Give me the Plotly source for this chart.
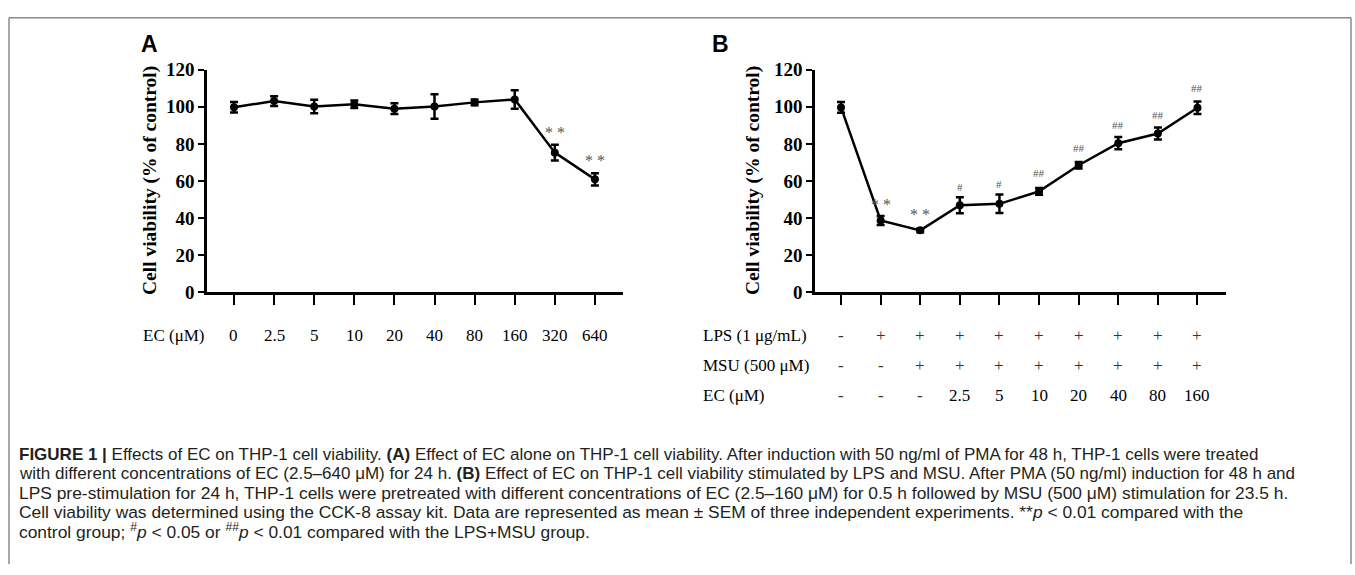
import plotly.graph_objects as go

W, H = 1355, 575

# ---------------- data ----------------
ec_a = ["0", "2.5", "5", "10", "20", "40", "80", "160", "320", "640"]
via_a = [99.8, 103.1, 100.2, 101.4, 99.0, 100.2, 102.4, 104.0, 75.3, 60.9]
sem_a = [2.8, 2.6, 3.6, 2.0, 2.9, 6.6, 1.5, 5.0, 4.2, 3.3]
sig_a = ["", "", "", "", "", "", "", "", "* *", "* *"]
sig_a_y = [None, None, None, None, None, None, None, None, 86.4, 70.9]

lps_b = ["-", "+", "+", "+", "+", "+", "+", "+", "+", "+"]
msu_b = ["-", "-", "+", "+", "+", "+", "+", "+", "+", "+"]
ec_b = ["-", "-", "-", "2.5", "5", "10", "20", "40", "80", "160"]
via_b = [99.7, 38.7, 33.4, 46.9, 47.7, 54.4, 68.5, 80.4, 85.6, 99.5]
sem_b = [2.9, 2.4, 1.0, 4.3, 5.0, 1.8, 1.7, 3.3, 3.2, 3.4]
sig_b = ["", "* *", "* *", "#", "#", "##", "##", "##", "##", "##"]
sig_b_y = [None, 47.5, 41.8, 57.0, 58.3, 64.3, 77.9, 90.3, 95.8, 109.9]

row_labels_b = ["LPS (1 μg/mL)", "MSU (500 μM)", "EC (μM)"]
row_label_a = "EC (μM)"
y_ticks = [0, 20, 40, 60, 80, 100, 120]
y_title = "Cell viability (% of control)"

caption_lines = [
    "<b>FIGURE 1 |</b> Effects of EC on THP-1 cell viability. <b>(A)</b> Effect of EC alone on THP-1 cell viability. After induction with 50 ng/ml of PMA for 48 h, THP-1 cells were treated",
    "with different concentrations of EC (2.5–640 μM) for 24 h. <b>(B)</b> Effect of EC on THP-1 cell viability stimulated by LPS and MSU. After PMA (50 ng/ml) induction for 48 h and",
    "LPS pre-stimulation for 24 h, THP-1 cells were pretreated with different concentrations of EC (2.5–160 μM) for 0.5 h followed by MSU (500 μM) stimulation for 23.5 h.",
    "Cell viability was determined using the CCK-8 assay kit. Data are represented as mean ± SEM of three independent experiments. **<i>p</i> < 0.01 compared with the",
    "control group; <sup>#</sup><i>p</i> < 0.05 or <sup>##</sup><i>p</i> < 0.01 compared with the LPS+MSU group.",
]

# ---------------- layout helpers ----------------
def px_x(p):
    return p / W

def px_y(p):
    return 1 - p / H

SERIF = "Liberation Serif, Times New Roman, serif"
SANS = "Liberation Sans, Arial, Helvetica, sans-serif"

fig = go.Figure()

xa = list(range(len(ec_a)))
xb = list(range(len(via_b)))

for xs, ys, es, xr, yr in ((xa, via_a, sem_a, "x", "y"), (xb, via_b, sem_b, "x2", "y2")):
    fig.add_trace(go.Scatter(
        x=xs, y=ys, mode="lines+markers",
        line=dict(color="black", width=2.5),
        marker=dict(color="black", size=8),
        error_y=dict(type="data", array=es, visible=True, color="black", thickness=2.5, width=4),
        xaxis=xr, yaxis=yr, showlegend=False, hoverinfo="skip",
    ))

ydom = [px_y(293), px_y(62)]
yax = dict(
    range=[0, 120], tickvals=y_ticks, showgrid=False, zeroline=False,
    showline=True, linecolor="black", linewidth=2.5,
    ticks="outside", ticklen=6, tickwidth=2.2, tickcolor="black",
    tickfont=dict(family=SERIF, size=19, color="black", weight="bold"),
    domain=ydom, fixedrange=True,
)
xax_common = dict(
    showgrid=False, zeroline=False, showline=True, linecolor="black", linewidth=2.5,
    ticks="outside", ticklen=10, tickwidth=2.2, tickcolor="black",
    showticklabels=False, fixedrange=True,
)

fig.update_layout(
    width=W, height=H, margin=dict(l=0, r=0, t=0, b=0),
    paper_bgcolor="white", plot_bgcolor="white",
    xaxis=dict(xax_common, domain=[px_x(207), px_x(623)], range=[-0.673, 9.70],
               tickvals=xa, anchor="y"),
    yaxis=dict(yax, anchor="x"),
    xaxis2=dict(xax_common, domain=[px_x(815), px_x(1226)], range=[-0.657, 9.72],
                tickvals=xb, anchor="y2"),
    yaxis2=dict(yax, anchor="x2"),
)

ann = []
def add(**kw):
    kw.setdefault("showarrow", False)
    kw.setdefault("xanchor", "center")
    kw.setdefault("yanchor", "middle")
    ann.append(kw)

# panel letters
add(text="<b>A</b>", x=px_x(149), y=px_y(35), xref="paper", yref="paper",
    font=dict(family=SANS, size=23, color="black"))
add(text="<b>B</b>", x=px_x(720), y=px_y(35), xref="paper", yref="paper",
    font=dict(family=SANS, size=23, color="black"))
# y titles
for cx in (150, 753):
    add(text="<b>" + y_title + "</b>", x=px_x(cx), y=(ydom[0] + ydom[1]) / 2,
        xref="paper", yref="paper", textangle=-90,
        font=dict(family=SERIF, size=19.5, color="black"))
# panel A x labels
row_a_y = 338
add(text=row_label_a, x=px_x(141), y=px_y(row_a_y), xref="paper", yref="paper",
    xanchor="left", font=dict(family=SERIF, size=17, color="black"))
for i, c in zip(xa, ec_a):
    add(text=c, x=i, y=px_y(row_a_y), xref="x", yref="paper",
        font=dict(family=SERIF, size=17, color="black"))
# panel B rows
rows_y = [338, 369, 400]
for lab, vals, ry in zip(row_labels_b, [lps_b, msu_b, ec_b], rows_y):
    add(text=lab, x=px_x(701), y=px_y(ry), xref="paper", yref="paper",
        xanchor="left", font=dict(family=SERIF, size=17, color="black"))
    for i, v in zip(xb, vals):
        add(text=v, x=i, y=px_y(ry), xref="x2", yref="paper",
            font=dict(family=SERIF, size=17, color="#333333" if v in "+-" else "black"))
# significance marks
for i, s, sy in zip(xa, sig_a, sig_a_y):
    if s:
        add(text=s, x=i, y=sy, xref="x", yref="y",
            font=dict(family=SERIF, size=16, color="#555555"))
for i, s, sy in zip(xb, sig_b, sig_b_y):
    if s:
        add(text=s, x=i, y=sy, xref="x2", yref="y2",
            font=dict(family=SERIF, size=16 if "*" in s else 11, color="#555555"))
# caption
cap_y = [461, 481, 501, 521, 541]
cap_size = [17, 17, 17.4, 17.4, 17.4]
for line, cy, fs in zip(caption_lines, cap_y, cap_size):
    add(text=line, x=px_x(17), y=px_y(cy), xref="paper", yref="paper",
        xanchor="left", font=dict(family=SANS, size=fs, color="#231f20"))

fig.update_layout(annotations=ann)

# figure border (top, left, right; open at the bottom)
border = dict(color="#8a8a8a", width=1.5)
fig.add_shape(type="line", xref="paper", yref="paper", x0=px_x(9), x1=px_x(1351),
              y0=px_y(8), y1=px_y(8), line=border)
fig.add_shape(type="line", xref="paper", yref="paper", x0=px_x(9), x1=px_x(9),
              y0=px_y(8), y1=0, line=border)
fig.add_shape(type="line", xref="paper", yref="paper", x0=px_x(1351), x1=px_x(1351),
              y0=px_y(8), y1=0, line=border)

fig.write_html("out.html", config={"displayModeBar": False},
               post_script="document.body.style.margin='0px';")
